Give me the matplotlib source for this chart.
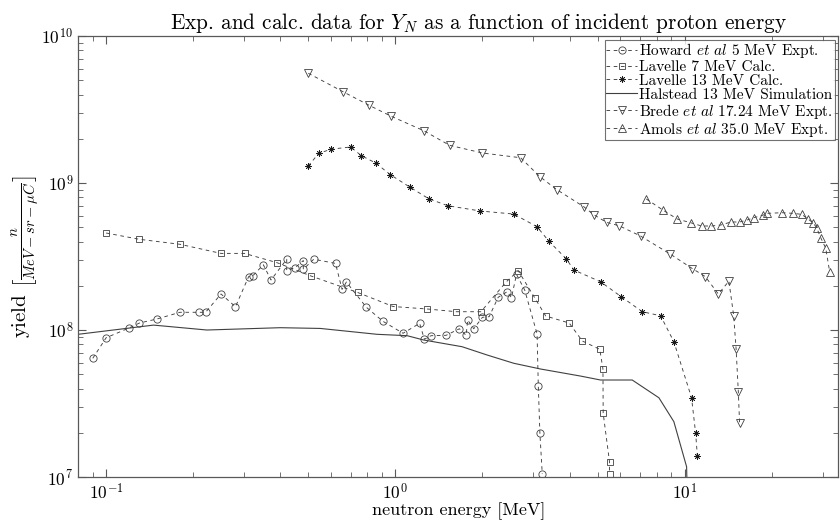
import numpy as np
import matplotlib
matplotlib.use("Agg")
import matplotlib.pyplot as plt
from matplotlib.ticker import LogLocator, FuncFormatter, NullFormatter

plt.rcParams['font.family'] = 'cmr10'
plt.rcParams['mathtext.fontset'] = 'cm'
plt.rcParams['axes.unicode_minus'] = False

# Howard et al 5 MeV Expt.
howard_e = [0.0899, 0.100, 0.120, 0.1304, 0.1497, 0.180, 0.210, 0.2207, 0.2495, 0.280,
            0.311, 0.321, 0.3495, 0.3715, 0.421, 0.421, 0.451, 0.4805, 0.4805, 0.522,
            0.621, 0.654, 0.677, 0.794, 0.906, 1.063, 1.213, 1.26, 1.329, 1.497,
            1.665, 1.756, 1.778, 1.866, 2.0, 2.11, 2.267, 2.435, 2.52, 2.623,
            2.80, 3.09, 3.12, 3.16, 3.22]
howard_y = [6.42e7, 8.86e7, 1.032e8, 1.116e8, 1.188e8, 1.32e8, 1.32e8, 1.32e8, 1.758e8, 1.44e8,
            2.31e8, 2.33e8, 2.78e8, 2.19e8, 3.03e8, 2.54e8, 2.66e8, 2.97e8, 2.59e8, 3.03e8,
            2.84e8, 1.89e8, 2.12e8, 1.427e8, 1.146e8, 9.50e7, 1.11e8, 8.65e7, 9.15e7, 9.2e7,
            1.02e8, 9.2e7, 1.17e8, 1.02e8, 1.22e8, 1.232e8, 1.67e8, 1.822e8, 1.66e8, 2.39e8,
            1.87e8, 9.4e7, 4.18e7, 1.98e7, 1.05e7]

# Lavelle 7 MeV Calc.
lav7_e = [0.100, 0.1304, 0.180, 0.2495, 0.301, 0.390, 0.511, 0.741, 0.982, 1.287,
          1.626, 1.976, 2.42, 2.66, 3.03, 3.31, 3.99, 4.43, 5.09, 5.22, 5.23, 5.50, 5.50]
lav7_y = [4.57e8, 4.14e8, 3.83e8, 3.32e8, 3.32e8, 2.87e8, 2.33e8, 1.80e8, 1.445e8, 1.39e8,
          1.332e8, 1.332e8, 2.13e8, 2.53e8, 1.66e8, 1.245e8, 1.116e8, 8.42e7, 7.39e7, 5.43e7,
          2.71e7, 1.27e7, 1.05e7]

# Lavelle 13 MeV Calc.
lav13_e = [0.50, 0.543, 0.600, 0.700, 0.763, 0.855, 0.961, 1.121, 1.304, 1.517,
           1.968, 2.566, 3.09, 3.39, 3.905, 4.14, 5.12, 6.04, 7.14, 8.26,
           9.18, 10.57, 10.92, 11.07]
lav13_y = [1.306e9, 1.59e9, 1.70e9, 1.758e9, 1.534e9, 1.368e9, 1.139e9, 9.39e8, 7.82e8, 7.01e8,
           6.45e8, 6.15e8, 5.04e8, 4.03e8, 3.04e8, 2.56e8, 2.13e8, 1.685e8, 1.332e8, 1.25e8,
           8.33e7, 3.46e7, 1.98e7, 1.39e7]

# Halstead 13 MeV Simulation
hal_e = [0.08, 0.1458, 0.223, 0.40, 0.55, 0.864, 1.098, 1.253, 1.70, 2.076,
         2.566, 3.175, 4.37, 5.12, 6.59, 8.15, 9.18, 10.16, 10.18]
hal_y = [9.35e7, 1.08e8, 1.0e8, 1.037e8, 1.025e8, 9.35e7, 9.15e7, 8.55e7, 7.70e7, 6.76e7,
         5.94e7, 5.43e7, 4.86e7, 4.57e7, 4.57e7, 3.46e7, 2.38e7, 1.175e7, 1.0e7]

# Brede et al 17.24 MeV Expt.
brede_e = [0.50, 0.659, 0.811, 0.969, 1.253, 1.54, 2.0, 2.71, 3.16, 3.62,
           4.48, 4.85, 5.37, 5.94, 7.04, 8.91, 10.63, 11.79, 13.08, 14.23,
           14.78, 15.07, 15.34, 15.49]
brede_y = [5.58e9, 4.18e9, 3.38e9, 2.84e9, 2.27e9, 1.805e9, 1.60e9, 1.486e9, 1.104e9, 9.0e8,
           6.90e8, 6.09e8, 5.40e8, 5.12e8, 4.36e8, 3.29e8, 2.62e8, 2.31e8, 1.758e8, 2.15e8,
           1.25e8, 7.43e7, 3.77e7, 2.34e7]

# Amols et al 35.0 MeV Expt.
amols_e = [7.37, 8.41, 9.43, 10.49, 11.45, 12.37, 13.35, 14.46, 15.49, 16.43,
           17.37, 18.72, 19.33, 21.72, 23.7, 25.4, 26.8, 27.8, 28.6, 29.55,
           30.76, 31.75]
amols_y = [7.79e8, 6.55e8, 5.69e8, 5.37e8, 5.10e8, 5.10e8, 5.18e8, 5.43e8, 5.43e8, 5.60e8,
           5.81e8, 6.06e8, 6.22e8, 6.28e8, 6.22e8, 6.12e8, 5.66e8, 5.37e8, 4.97e8, 4.25e8,
           3.60e8, 2.48e8]

fig = plt.figure(figsize=(8.4, 5.25), dpi=100)
ax = fig.add_axes([0.093, 0.0914, 0.905, 0.8400])

dash = (0, (4, 4))
lc = '0.25'
common = dict(color=lc, lw=0.65, linestyle=dash, mfc='none', mec=lc, mew=0.6)

ax.plot(howard_e, howard_y, marker='o', ms=5.2, label=r'Howard $et\ al$ 5 MeV Expt.', **common)
ax.plot(lav7_e, lav7_y, marker='s', ms=4.6, label='Lavelle 7 MeV Calc.', **common)
ax.plot(lav13_e, lav13_y, marker=(8, 2, 0), ms=4.5, label='Lavelle 13 MeV Calc.',
        color=lc, lw=0.65, linestyle=dash, mec='0.1', mew=0.55)
ax.plot(hal_e, hal_y, color=lc, lw=0.8, label='Halstead 13 MeV Simulation')
ax.plot(brede_e, brede_y, marker='v', ms=5.5, label=r'Brede $et\ al$ 17.24 MeV Expt.', **common)
ax.plot(amols_e, amols_y, marker='^', ms=5.5, label=r'Amols $et\ al$ 35.0 MeV Expt.', **common)

ax.set_xscale('log')
ax.set_yscale('log')
ax.set_xlim(0.08, 34)
ax.set_ylim(1e7, 1e10)

fmt = FuncFormatter(lambda v, p: r'$\mathsf{10^{%d}}$' % int(round(np.log10(v))))
for a in (ax.xaxis, ax.yaxis):
    a.set_major_locator(LogLocator(base=10))
    a.set_minor_locator(LogLocator(base=10, subs=np.arange(2, 10)))
    a.set_major_formatter(fmt)
    a.set_minor_formatter(NullFormatter())

ax.tick_params(which='both', direction='in', top=True, right=True, colors='0.35',
               labelcolor='k', labelsize=12.5)
ax.tick_params(which='major', length=6, width=0.8)
ax.tick_params(which='minor', length=3.5, width=0.6)
for s in ax.spines.values():
    s.set_color('0.35')
    s.set_linewidth(0.9)

ax.set_xlabel('neutron energy [MeV]', fontsize=13, labelpad=0)
ax.set_ylabel(r'yield $\left[\frac{n}{MeV-sr-\mu C}\right]$', fontsize=15, labelpad=0)
ax.set_title(r'Exp. and calc. data for $Y_N$ as a function of incident proton energy',
             fontsize=15.3, x=0.526, pad=5)

leg = ax.legend(loc='upper right', fontsize=11, frameon=True, fancybox=False,
                edgecolor='0.3', borderpad=0.1, labelspacing=0.0, handlelength=2.0,
                handletextpad=0.15, borderaxespad=0.25)
leg.get_frame().set_linewidth(0.8)

fig.savefig('out.png', dpi=100)
